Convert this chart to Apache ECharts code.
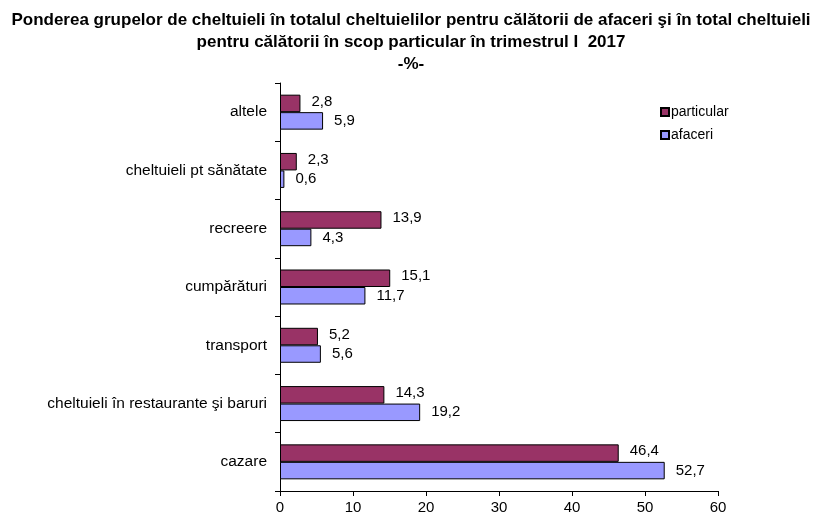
<!DOCTYPE html>
<html><head><meta charset="utf-8">
<script src="https://cdn.jsdelivr.net/npm/echarts@6/dist/echarts.min.js"></script>
<style>html,body{margin:0;padding:0;background:#fff}#c{width:822px;height:525px}</style>
</head><body><div id="c"></div>
<script>
const categories = ["altele", "cheltuieli pt sănătate", "recreere", "cumpărături", "transport", "cheltuieli în restaurante şi baruri", "cazare"];
const particular = [2.8, 2.3, 13.9, 15.1, 5.2, 14.3, 46.4];
const afaceri = [5.9, 0.6, 4.3, 11.7, 5.6, 19.2, 52.7];
const xTicks = [0, 10, 20, 30, 40, 50, 60];
const titleLines = ["Ponderea grupelor de cheltuieli în totalul cheltuielilor pentru călătorii de afaceri şi în total cheltuieli", "pentru călătorii în scop particular în trimestrul I  2017", "-%-"];

const chart = echarts.init(document.getElementById('c'));
const mkLbl = off => ({show: true, position: 'right', distance: 11, offset: off, color: '#000', fontSize: 15, fontFamily: 'Liberation Sans, Arial',
  formatter: p => String(p.value).replace('.', ',')});
chart.setOption({
  animation: false,
  title: {
    text: titleLines.join('\n'), left: 'center', top: 4,
    textStyle: {fontFamily: 'Liberation Sans, Arial', fontWeight: 'bold', fontSize: 17, color: '#000', lineHeight: 22}
  },
  legend: {
    data: ['particular', 'afaceri'], orient: 'vertical', left: 655, top: 100,
    itemWidth: 8, itemHeight: 8, itemGap: 9, icon: 'rect',
    textStyle: {fontFamily: 'Liberation Sans, Arial', fontSize: 14, color: '#000', padding: [0, 0, 0, -3]}
  },
  grid: {left: 280, right: 104, top: 83, bottom: 34},
  xAxis: {
    type: 'value', min: 0, max: 60, interval: 10,
    axisLine: {show: true, lineStyle: {color: '#000'}},
    axisTick: {show: true, length: 5, lineStyle: {color: '#000'}},
    axisLabel: {color: '#000', fontSize: 15, fontFamily: 'Liberation Sans, Arial', margin: 9,
      formatter: v => xTicks.includes(v) ? String(v) : ''},
    splitLine: {show: false}
  },
  yAxis: {
    type: 'category', data: categories, inverse: true,
    axisLine: {show: true, lineStyle: {color: '#000'}},
    axisTick: {show: true, length: 5, lineStyle: {color: '#000'}},
    axisLabel: {color: '#000', fontSize: 15.5, fontFamily: 'Liberation Sans, Arial', margin: 13}
  },
  series: [
    {name: 'particular', type: 'bar', data: particular, barGap: '0%', barCategoryGap: '40%',
      itemStyle: {color: '#993366', borderColor: '#000', borderWidth: 1}, label: mkLbl([0, -2])},
    {name: 'afaceri', type: 'bar', data: afaceri, barGap: '0%', barCategoryGap: '40%',
      itemStyle: {color: '#9999ff', borderColor: '#000', borderWidth: 1}, label: mkLbl([0, 0])}
  ]
});
</script></body></html>
